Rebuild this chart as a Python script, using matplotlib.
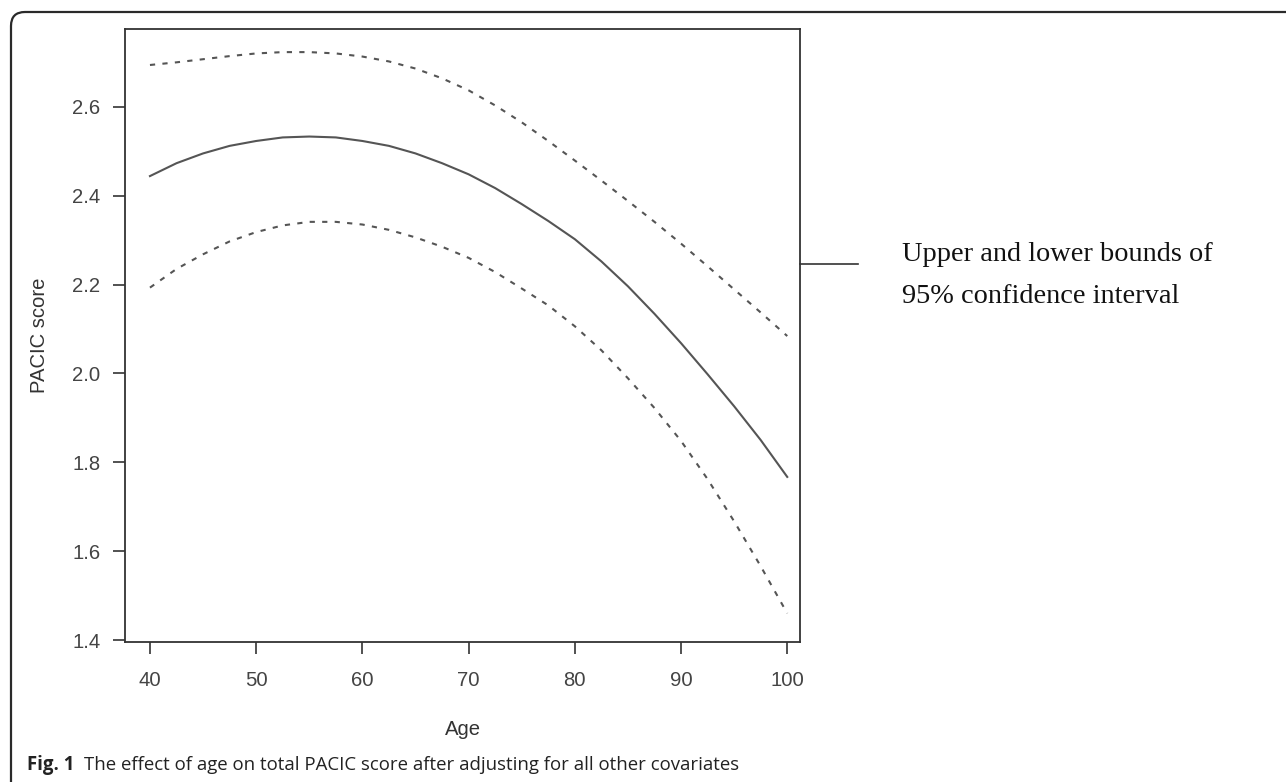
import matplotlib
matplotlib.use("Agg")
import matplotlib.pyplot as plt
from matplotlib.lines import Line2D
from matplotlib.patches import FancyBboxPatch

# values
age = [40, 42.5, 45, 47.5, 50, 52.5, 55, 57.5, 60, 62.5, 65, 67.5, 70,
       72.5, 75, 77.5, 80, 82.5, 85, 87.5, 90, 92.5, 95, 97.5, 100]
fit = [2.444, 2.473, 2.495, 2.512, 2.523, 2.531, 2.533, 2.531, 2.523, 2.512, 2.495, 2.473, 2.448,
       2.417, 2.381, 2.343, 2.302, 2.252, 2.196, 2.134, 2.068, 1.998, 1.926, 1.850, 1.767]
upper = [2.694, 2.70, 2.707, 2.714, 2.72, 2.723, 2.723, 2.72, 2.713, 2.702, 2.686, 2.664, 2.637,
         2.603, 2.565, 2.523, 2.479, 2.434, 2.388, 2.341, 2.292, 2.241, 2.189, 2.137, 2.084]
lower = [2.193, 2.235, 2.268, 2.297, 2.318, 2.333, 2.341, 2.341, 2.335, 2.323, 2.306, 2.285, 2.26,
         2.228, 2.191, 2.153, 2.106, 2.052, 1.989, 1.922, 1.848, 1.762, 1.667, 1.566, 1.46]

xticks = [40, 50, 60, 70, 80, 90, 100]
yticks = [1.4, 1.6, 1.8, 2.0, 2.2, 2.4, 2.6]

W, H = 1286, 782
fig = plt.figure(figsize=(W / 100, H / 100), dpi=100)
ax = fig.add_axes([125 / W, 1 - 642 / H, 675 / W, 613 / H])

line_col = "#555555"
ax.plot(age, fit, color=line_col, lw=1.5)
ax.plot(age, upper, color=line_col, lw=1.5, ls=(0, (2.5, 3.5)))
ax.plot(age, lower, color=line_col, lw=1.5, ls=(0, (2.5, 3.5)))

ax.set_xlim(37.65, 101.2)
ax.set_ylim(1.3955, 2.775)
ax.set_xticks(xticks)
ax.set_yticks(yticks)
ax.set_xticklabels([str(x) for x in xticks])
ax.set_yticklabels([f"{y:.1f}" for y in yticks])

for s in ax.spines.values():
    s.set_color("#333333")
    s.set_linewidth(1.3)

ax.tick_params(axis="both", length=8.6, width=1.2, color="#333333",
               labelsize=14.6, labelcolor="#444444")
ax.tick_params(axis="x", pad=12)
ax.tick_params(axis="y", pad=9)
for lab in ax.get_xticklabels() + ax.get_yticklabels():
    lab.set_fontfamily("Liberation Sans")

ax.set_xlabel("Age", fontsize=14.6, color="#333333", family="Liberation Sans", labelpad=22)
ax.set_ylabel("PACIC score", fontsize=14.6, color="#333333", family="Liberation Sans", labelpad=17)

# pointer line and note on the right
fig.add_artist(Line2D([800 / W, 858 / W], [1 - 264 / H, 1 - 264 / H],
                      transform=fig.transFigure, color="#333333", lw=1.2))
fig.text(902 / W, 1 - 261 / H, "Upper and lower bounds of", family="Liberation Serif",
         fontsize=20.4, va="baseline", ha="left", color="#111111")
fig.text(902 / W, 1 - 303 / H, "95% confidence interval", family="Liberation Serif",
         fontsize=20.4, va="baseline", ha="left", color="#111111")

# caption
fig.text(27 / W, 1 - 770 / H, "Fig. 1", family="Open Sans", fontweight="bold",
         fontsize=13.4, va="baseline", ha="left", color="#222222")
fig.text(84 / W, 1 - 770 / H, "The effect of age on total PACIC score after adjusting for all other covariates",
         family="Open Sans", fontsize=13.4, va="baseline", ha="left", color="#222222")

# rounded frame around the figure (only left and top edges visible)
frame = FancyBboxPatch((0.11, -0.2), 14.5, 7.7 + 0.2,
                       boxstyle="round,pad=0,rounding_size=0.14",
                       transform=fig.dpi_scale_trans, fill=False,
                       edgecolor="#2a2a2a", lw=1.6)
fig.add_artist(frame)

fig.savefig("out.png", dpi=100)
